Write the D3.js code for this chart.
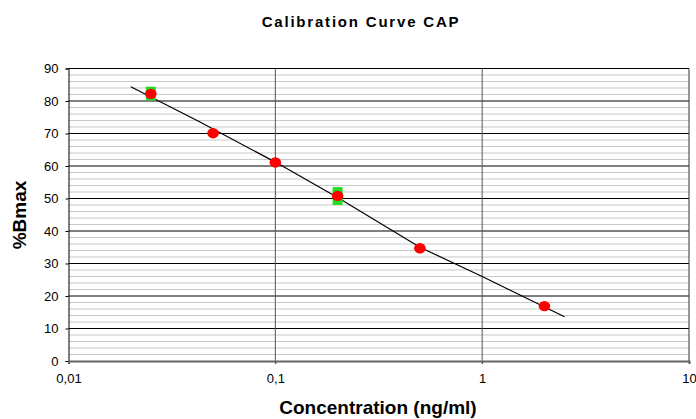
<!DOCTYPE html>
<html><head><meta charset="utf-8">
<script src="https://cdn.jsdelivr.net/npm/d3@7"></script>
<style>body{margin:0;background:#fff}svg{display:block}text{font-family:"Liberation Sans",Arial,sans-serif}</style>
</head><body><svg id="c" width="696" height="419"></svg>
<script>
const concentrations=[0.025,0.05,0.1,0.2,0.5,2];
const bmaxValues=[82.2,70.1,61.1,50.8,34.7,16.9];
const errLow=[80.2,69.3,60.5,48.0,34.1,16.4];
const errHigh=[84.4,70.8,61.6,53.5,35.2,17.3];
const trendX=[0.02,0.043,0.1,0.2,0.5,1,2.5];
const trendY=[84.4,73.6,61.2,50.3,35.0,26.0,13.6];
const xTicks=[0.01,0.1,1,10];
const xTickLabels=["0,01","0,1","1","10"];
const yTicks=[0,10,20,30,40,50,60,70,80,90];
const yMinor=d3.range(0,91,2);

const svg=d3.select("#c");
const L=68.5,R=689,T=68.5,B=361;
const x=d3.scaleLog().domain([0.01,10]).range([L,R]);
const y=d3.scaleLinear().domain([0,90]).range([B,T]);

svg.append("g").selectAll("line").data(yMinor.filter(v=>v%10!==0)).join("line")
 .attr("x1",L).attr("x2",R).attr("y1",d=>y(d)).attr("y2",d=>y(d))
 .attr("stroke","#c8c8c8").attr("stroke-width",1);
svg.append("g").selectAll("line").data(yTicks.filter(v=>v>0)).join("line")
 .attr("x1",L).attr("x2",R).attr("y1",d=>y(d)).attr("y2",d=>y(d))
 .attr("stroke","#000").attr("stroke-width",1);
svg.append("g").selectAll("line").data([0.1,1]).join("line")
 .attr("x1",d=>x(d)).attr("x2",d=>x(d)).attr("y1",T).attr("y2",B+3)
 .attr("stroke","#555").attr("stroke-width",1);
svg.append("line").attr("x1",R).attr("x2",R).attr("y1",T).attr("y2",B).attr("stroke","#333");
const ya=svg.append("g").attr("transform",`translate(${L},0)`)
 .call(d3.axisLeft(y).tickValues(yTicks).tickSize(3).tickPadding(7).tickFormat(d=>d));
ya.select(".domain").attr("stroke","#000");
ya.selectAll("text").attr("font-size",13).attr("fill","#000").style("font-family","Liberation Sans, Arial");
const xa=svg.append("g").attr("transform",`translate(0,${B})`)
 .call(d3.axisBottom(x).tickValues(xTicks).tickSize(3).tickPadding(10).tickFormat((d,i)=>xTickLabels[i]));
xa.select(".domain").attr("stroke","#666").attr("stroke-width",2);
xa.selectAll("line").attr("stroke","#555");
xa.selectAll("text").attr("font-size",13).attr("fill","#000").style("font-family","Liberation Sans, Arial");

const tl=trendX.map((v,i)=>[v,trendY[i]]);
svg.append("path").datum(tl).attr("d",d3.line().x(d=>x(d[0])).y(d=>y(d[1])))
 .attr("fill","none").attr("stroke","#000").attr("stroke-width",1.2);

svg.append("g").selectAll("rect").data(concentrations).join("rect")
 .attr("x",d=>x(d)-5).attr("width",10)
 .attr("y",(d,i)=>y(errHigh[i])).attr("height",(d,i)=>y(errLow[i])-y(errHigh[i]))
 .attr("fill","#22dd22");
svg.append("g").selectAll("ellipse").data(concentrations).join("ellipse")
 .attr("cx",d=>x(d)).attr("cy",(d,i)=>y(bmaxValues[i])).attr("rx",5.8).attr("ry",5.2)
 .attr("fill","#ff0000");

svg.append("text").attr("x",361).attr("y",27).attr("text-anchor","middle")
 .attr("font-size",15).attr("font-weight","bold").attr("letter-spacing",1.8).text("Calibration Curve CAP");
svg.append("text").attr("x",378).attr("y",414).attr("text-anchor","middle")
 .attr("font-size",19).attr("font-weight","bold").text("Concentration (ng/ml)");
svg.append("text").attr("transform","translate(26,215) rotate(-90)").attr("text-anchor","middle")
 .attr("font-size",19).attr("font-weight","bold").text("%Bmax");
</script></body></html>
